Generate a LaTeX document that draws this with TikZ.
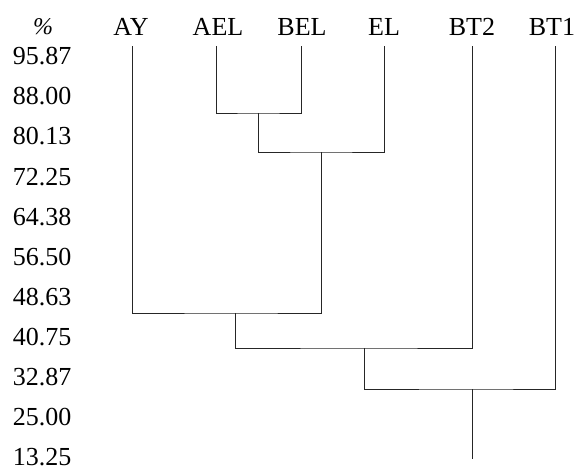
\documentclass[tikz,border=0pt]{standalone}
\usepackage{fontspec}
\setmainfont{Liberation Serif}
\begin{document}
\begin{tikzpicture}[x=1pt,y=-1pt,
  lbl/.style={anchor=base,inner sep=0pt,font=\fontsize{26}{30}\selectfont},
  branch/.style={line width=0.9pt,black!85}]
\useasboundingbox (0,0) rectangle (577,465);
% axis labels
\node[lbl,font=\fontsize{24}{28}\selectfont\itshape] (pct) at (43,35) {\%};
\foreach \v [count=\i from 0] in {95.87,88.00,80.13,72.25,64.38,56.50,48.63,40.75,32.87,25.00,13.25}
  \node[lbl] (y\i) at (42,65+40*\i) {\v};
% leaf labels
\node[lbl] (lAY)  at (131,36) {AY};
\node[lbl] (lAEL) at (218,36) {AEL};
\node[lbl] (lBEL) at (302,36) {BEL};
\node[lbl] (lEL)  at (384,36) {EL};
\node[lbl] (lBT2) at (472,36) {BT2};
\node[lbl] (lBT1) at (552,36) {BT1};
% leaf tops
\coordinate (ay)  at (132,46);
\coordinate (ael) at (216,46);
\coordinate (bel) at (301,46);
\coordinate (el)  at (384,46);
\coordinate (bt2) at (472,46);
\coordinate (bt1) at (555,46);
% merge points
\coordinate (m1) at (258,113);
\coordinate (m2) at (321,152);
\coordinate (m3) at (235,313);
\coordinate (m4) at (364,348);
\coordinate (m5) at (472,389);
\coordinate (root) at (472,459);
% branches
\draw[branch] (ael) |- (m1) -| (bel);
\draw[branch] (m1) |- (m2) -| (el);
\draw[branch] (m2) |- (m3) -| (ay);
\draw[branch] (m3) |- (m4) -| (bt2);
\draw[branch] (m4) |- (m5) -| (bt1);
\draw[branch] (m5) -- (root);
\end{tikzpicture}
\end{document}
